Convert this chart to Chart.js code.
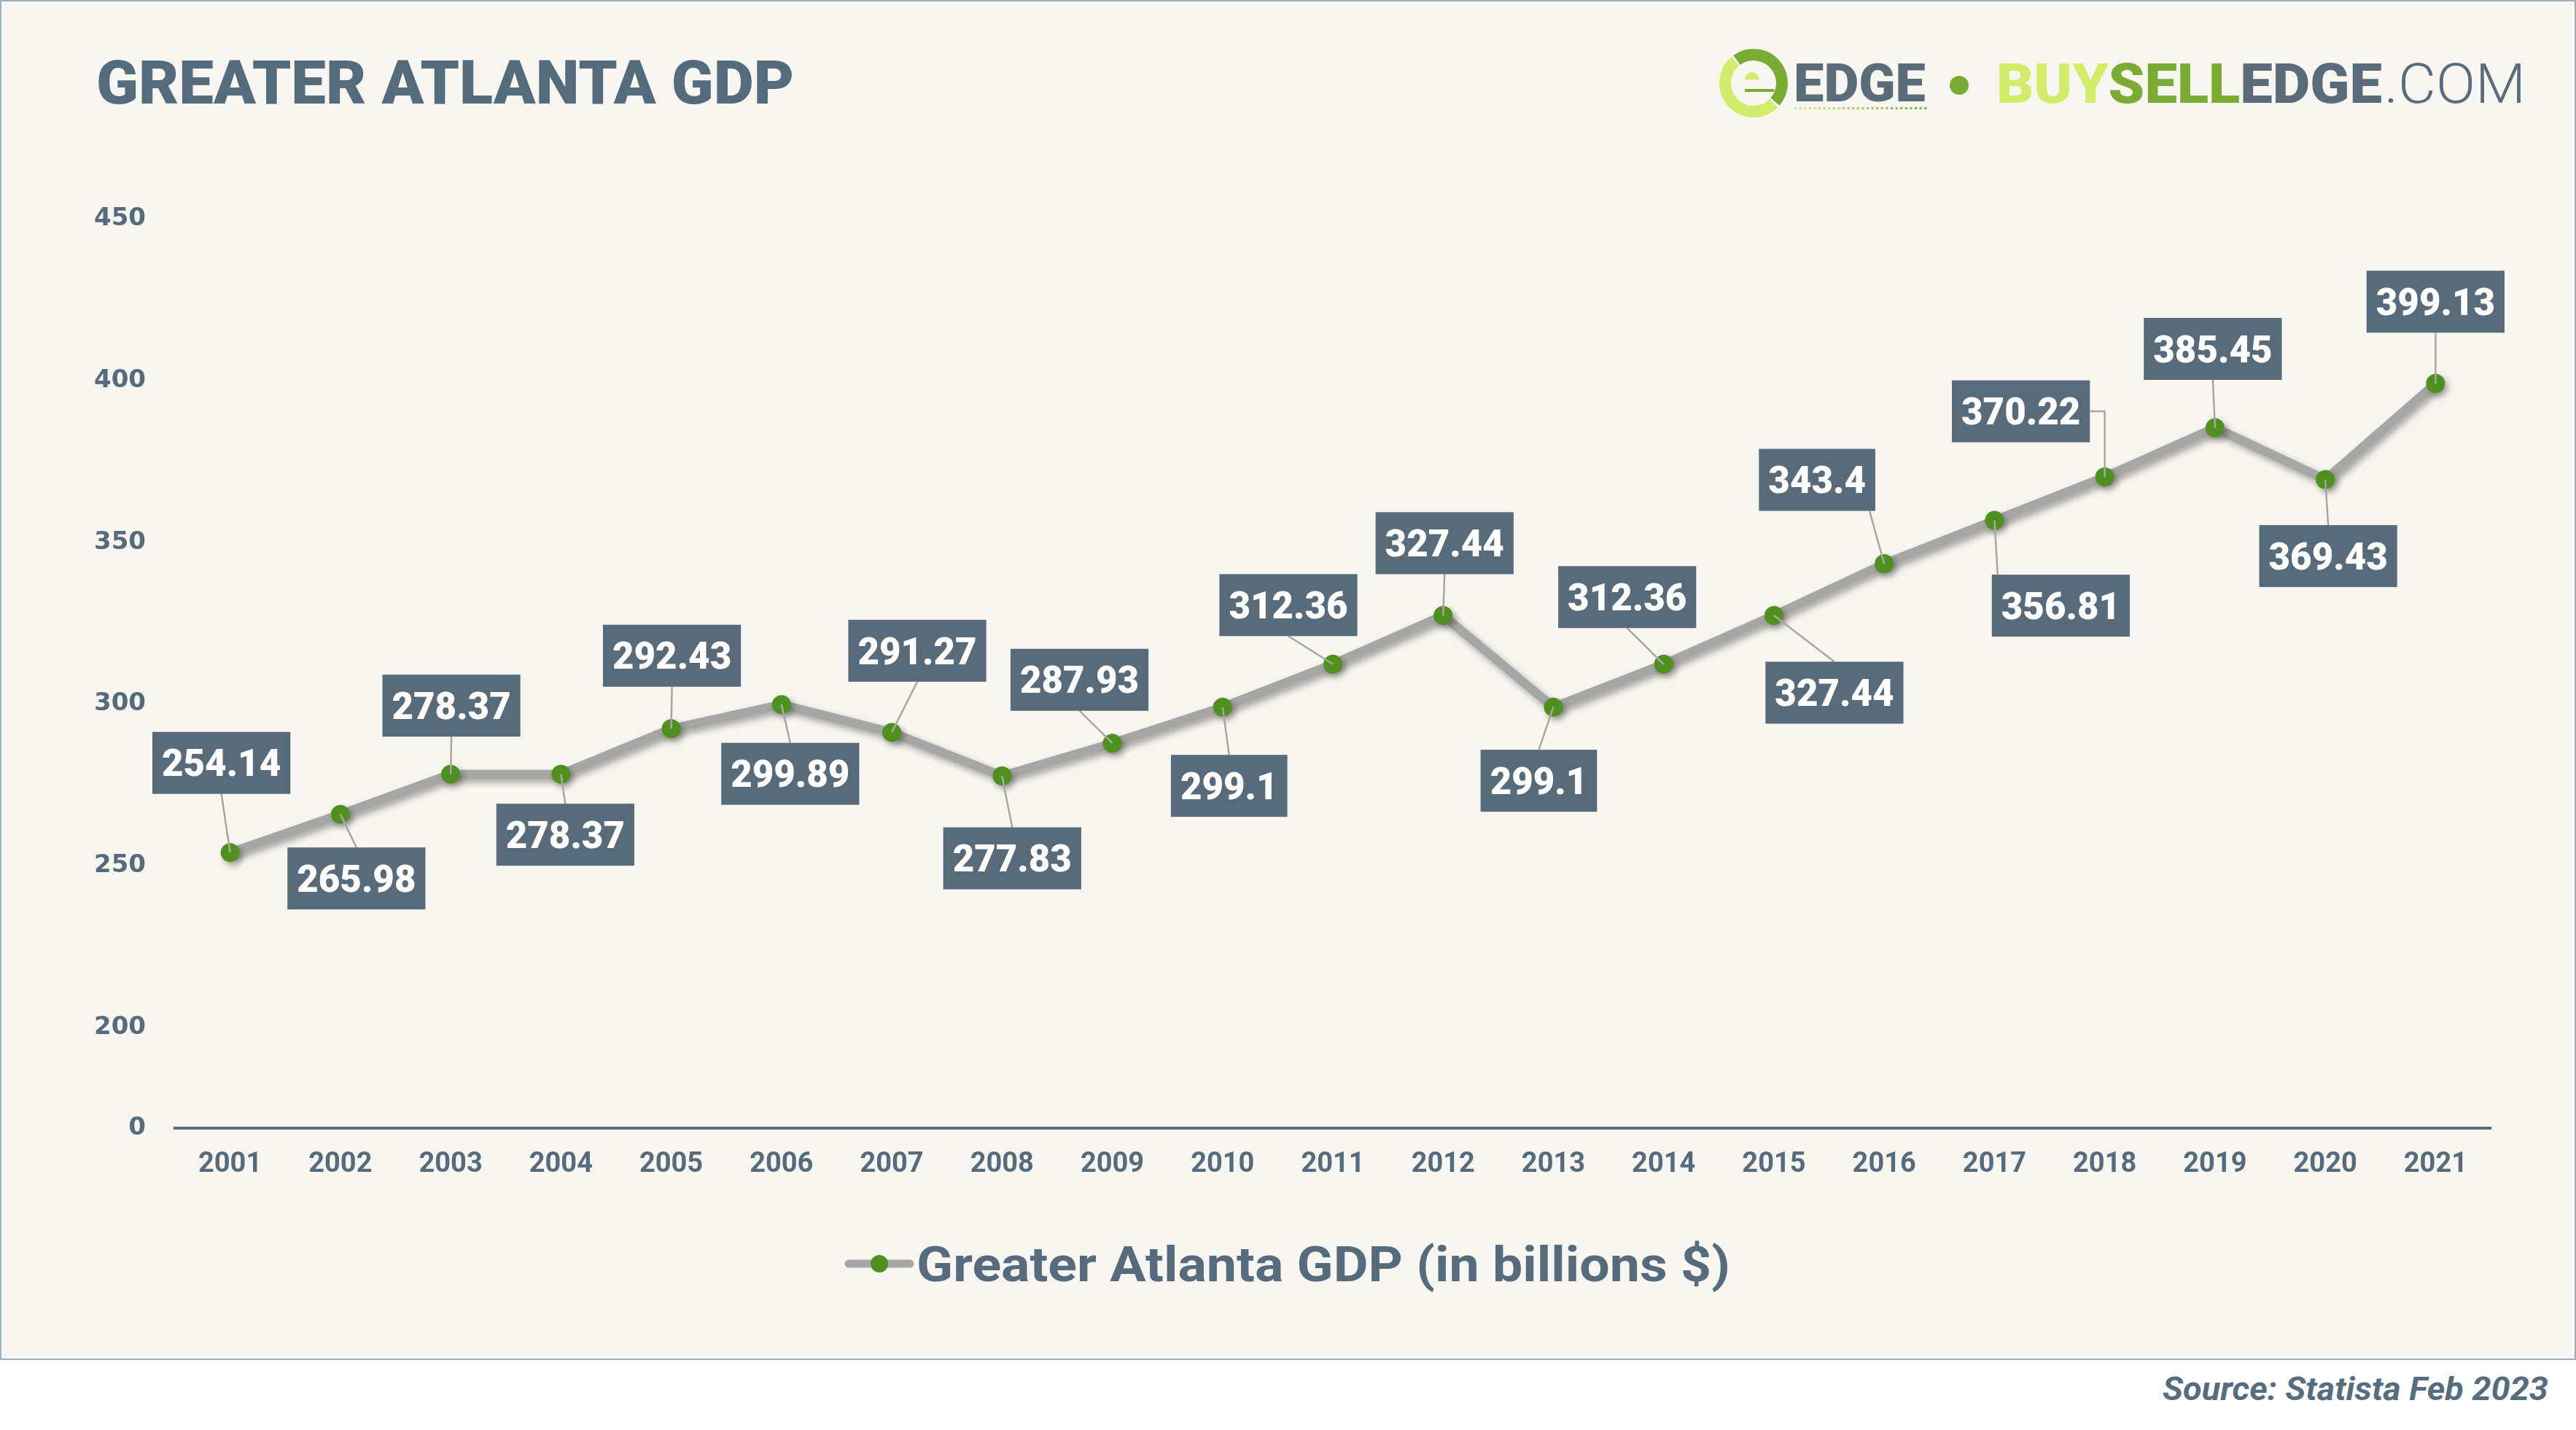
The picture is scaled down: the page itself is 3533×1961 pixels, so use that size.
<!DOCTYPE html>
<html>
<head>
<meta charset="utf-8">
<script src="https://cdn.jsdelivr.net/npm/chart.js@4.4.1/dist/chart.umd.min.js"></script>
<style>
html,body{margin:0;padding:0;background:#ffffff;}
body{width:3533px;height:1961px;position:relative;overflow:hidden;}
#panel{position:absolute;left:0;top:0;width:3533px;height:1865px;box-sizing:border-box;border:2px solid #9fb0bd;background:#f8f6f1;}
#c{position:absolute;left:0;top:0;}
#logo{position:absolute;left:2340px;top:50px;}
.t{position:absolute;white-space:nowrap;line-height:1;font-family:Roboto,"Liberation Sans",sans-serif;transform-origin:0 0;margin:0;}
#title{color:#546b7c;font-weight:900;}
#edge{color:#5a6b79;font-weight:900;}
#bse{font-weight:900;}
#com{color:#5a6b79;font-weight:300;}
#source{color:#566d7d;font-weight:700;font-style:italic;}
</style>
</head>
<body>
<div id="panel"></div>
<canvas id="logo" width="380" height="130"></canvas>
<div id="title" class="t">GREATER ATLANTA GDP</div>
<div id="edge" class="t">EDGE</div>
<div id="bse" class="t"><span style="color:#d3ec6a">BUY</span><span style="color:#7aab32">SELL</span><span style="color:#5a6b79">EDGE</span></div>
<div id="com" class="t">.COM</div>
<div id="source" class="t">Source: Statista Feb 2023</div>
<canvas id="c" width="3533" height="1961"></canvas>
<script>
// ---------------- data ----------------
const YEARS = ['2001','2002','2003','2004','2005','2006','2007','2008','2009','2010','2011',
               '2012','2013','2014','2015','2016','2017','2018','2019','2020','2021'];
const GDP = [254.14, 265.98, 278.37, 278.37, 292.43, 299.89, 291.27, 277.83, 287.93, 299.1, 312.36,
             327.44, 299.1, 312.36, 327.44, 343.4, 356.81, 370.22, 385.45, 369.43, 399.13];
const Y_TICKS = [200, 250, 300, 350, 400, 450];
const Y_AXIS_START = 169;      // broken axis: bottom of the plot area
const Y_START_LABEL = '0';     // label shown at the broken-axis bottom
const SERIES_LABEL = 'Greater Atlanta GDP (in billions $)';

// value-box placement relative to each point (pixels)
const LABEL_POS = [
  [-12,-123],[22,88],[1,-94],[6,83],[1,-100],[12,95],[35,-112],[14,113],[-45,-87],[9,108],[-61,-81],
  [2,-99],[-20,101],[-50,-92],[83,106],[-92,-115],[91,117],[-115,-90,'elbow'],[-3,-108],[4,105],[0,-112]
];

// ---------------- styles ----------------
const SLATE = '#566b7b';
const BOX = '#586b7a';
const LINE_GRAY = '#a6a6a6';
const GREEN = '#4f901e';

// ---------------- HTML text fitting ----------------
function fit(id, left, baseline, capH, width){
  const el = document.getElementById(id);
  const fs = capH / 0.711;
  el.style.fontSize = fs + 'px';
  el.style.top = (baseline - 0.842 * fs) + 'px';
  const w = el.getBoundingClientRect().width;
  el.style.left = left + 'px';
  el.style.transform = 'scaleX(' + (width / w) + ')';
}
fit('title', 132, 142, 59, 957);
fit('edge', 2460, 140, 52, 181);
fit('bse', 2738, 142, 54, 529);
fit('com', 3270, 142, 54, 194);
fit('source', 2966, 1921, 31, 529);

// ---------------- logo mark ----------------
(function(){
  const g = document.getElementById('logo').getContext('2d');
  g.translate(-2340, -50);
  const d = a => a * Math.PI / 180;
  const cx = 2405, cy = 114, R = 47, th = 16, r = R - th / 2;
  g.lineWidth = th;
  g.strokeStyle = '#7aab32'; g.beginPath(); g.arc(cx, cy, r, d(-126), d(41)); g.stroke();
  g.strokeStyle = '#d4ec6b'; g.beginPath(); g.arc(cx, cy, r, d(45), d(230)); g.stroke();
  g.fillStyle = '#d4ec6b'; g.beginPath(); g.arc(2403, 109, 10, Math.PI, 2 * Math.PI); g.fill();
  g.fillStyle = '#7aab32'; g.fillRect(2393, 122, 40, 4);
  for (let x = 2461; x <= 2641; x += 6.6) {
    const t = (x - 2461) / 180;
    const rr = Math.round(0xd4 + (0x7a - 0xd4) * t), gg = Math.round(0xec + (0xab - 0xec) * t), bb = Math.round(0x6b + (0x32 - 0x6b) * t);
    g.fillStyle = 'rgb(' + rr + ',' + gg + ',' + bb + ')';
    g.fillRect(x, 147, 3, 3);
  }
  g.fillStyle = '#7aab32'; g.beginPath(); g.arc(2687, 117, 13, 0, 2 * Math.PI); g.fill();
})();

// ---------------- plugins ----------------
const LABEL_FONT = '900 51px Roboto';
const shadowAndLabels = {
  id: 'shadowAndLabels',
  beforeDatasetsDraw(chart){
    const ctx = chart.ctx;
    ctx.save();
    ctx.shadowColor = 'rgba(0,0,0,0.35)';
    ctx.shadowBlur = 10;
    ctx.shadowOffsetX = 4;
    ctx.shadowOffsetY = 5;
  },
  afterDatasetsDraw(chart){
    const ctx = chart.ctx;
    ctx.restore();
    const meta = chart.getDatasetMeta(0);
    const ds = chart.data.datasets[0];
    ctx.save();
    ctx.font = LABEL_FONT;
    const boxes = meta.data.map((p, i) => {
      const txt = String(ds.data[i]);
      const w = ctx.measureText(txt).width + 26, h = 85;
      const [dx, dy, mode] = LABEL_POS[i];
      const cx = p.x + dx, cy = p.y + dy;
      return {p, txt, w, h, cx, cy, mode, l: cx - w / 2, r: cx + w / 2, t: cy - h / 2, b: cy + h / 2};
    });
    ctx.strokeStyle = LINE_GRAY;
    ctx.lineWidth = 2.5;
    boxes.forEach(B => {
      ctx.beginPath();
      if (B.mode === 'elbow') {
        const sx = B.p.x > B.cx ? B.r : B.l;
        ctx.moveTo(sx, B.cy);
        ctx.lineTo(B.p.x, B.cy);
        ctx.lineTo(B.p.x, B.p.y);
      } else {
        let ax = B.cx;
        if (Math.abs(B.p.x - B.cx) > B.w * 0.45) ax = Math.min(Math.max(B.p.x, B.l + 8), B.r - 8);
        const ay = B.p.y < B.cy ? B.t : B.b;
        ctx.moveTo(ax, ay);
        ctx.lineTo(B.p.x, B.p.y);
      }
      ctx.stroke();
    });
    boxes.forEach(B => {
      ctx.fillStyle = BOX;
      ctx.fillRect(B.l, B.t, B.w, B.h);
      ctx.fillStyle = '#ffffff';
      ctx.textAlign = 'center';
      ctx.textBaseline = 'alphabetic';
      ctx.fillText(B.txt, B.cx, B.cy + 0.711 * 51 / 2);
    });
    ctx.restore();
  },
  afterDraw(chart){
    const ctx = chart.ctx;
    ctx.save();
    const y = chart.chartArea.bottom + 186;
    ctx.font = 'bold 66px Roboto';
    const label = chart.data.datasets[0].label;
    const tw = ctx.measureText(label).width;
    const targetW = 1116;
    const symW = 92, gap = 5;
    const total = symW + gap + targetW;
    const x0 = chart.width / 2 - total / 2;
    ctx.strokeStyle = LINE_GRAY; ctx.lineWidth = 11; ctx.lineCap = 'round';
    ctx.beginPath(); ctx.moveTo(x0 + 4, y); ctx.lineTo(x0 + symW - 4, y); ctx.stroke();
    ctx.fillStyle = GREEN;
    ctx.beginPath(); ctx.arc(x0 + symW / 2, y, 12, 0, Math.PI * 2); ctx.fill();
    ctx.fillStyle = SLATE;
    ctx.textBaseline = 'alphabetic';
    ctx.textAlign = 'left';
    ctx.translate(x0 + symW + gap, y + 24);
    ctx.scale(targetW / tw, 1);
    ctx.fillText(label, 0, 0);
    ctx.restore();
  }
};

// ---------------- chart ----------------
new Chart(document.getElementById('c'), {
  type: 'line',
  data: {
    labels: YEARS,
    datasets: [{
      label: SERIES_LABEL,
      data: GDP,
      borderColor: LINE_GRAY,
      borderWidth: 12,
      borderJoinStyle: 'round',
      tension: 0,
      pointRadius: 13,
      pointHoverRadius: 13,
      pointBackgroundColor: GREEN,
      pointBorderWidth: 0,
      pointBorderColor: GREEN
    }]
  },
  options: {
    responsive: false,
    devicePixelRatio: 1,
    animation: false,
    events: [],
    layout: { padding: { top: 300, left: 0, right: 117, bottom: 0 } },
    plugins: { legend: { display: false }, tooltip: { enabled: false }, title: { display: false } },
    scales: {
      x: {
        type: 'category',
        offset: true,
        grid: { display: false, drawTicks: false, tickLength: 0 },
        border: { display: true, color: SLATE, width: 4 },
        ticks: {
          color: SLATE,
          font: { family: 'Roboto', weight: 'bold', size: 38 },
          padding: 28,
          maxRotation: 0,
          autoSkip: false
        },
        afterFit(s){ s.height = 1961 - 1547; }
      },
      y: {
        min: Y_AXIS_START,
        max: 450,
        grid: { display: false, drawTicks: false, tickLength: 0 },
        border: { display: false },
        afterBuildTicks(s){ s.ticks = [Y_AXIS_START].concat(Y_TICKS).map(v => ({ value: v })); },
        ticks: {
          color: SLATE,
          font: { family: 'DejaVu Sans', weight: 'bold', size: 34 },
          padding: 40,
          labelOffset: 0,
          callback: v => (v === Y_AXIS_START ? Y_START_LABEL : String(v))
        },
        afterFit(s){ s.width = 240; }
      }
    }
  },
  plugins: [shadowAndLabels]
});
</script>
</body>
</html>
